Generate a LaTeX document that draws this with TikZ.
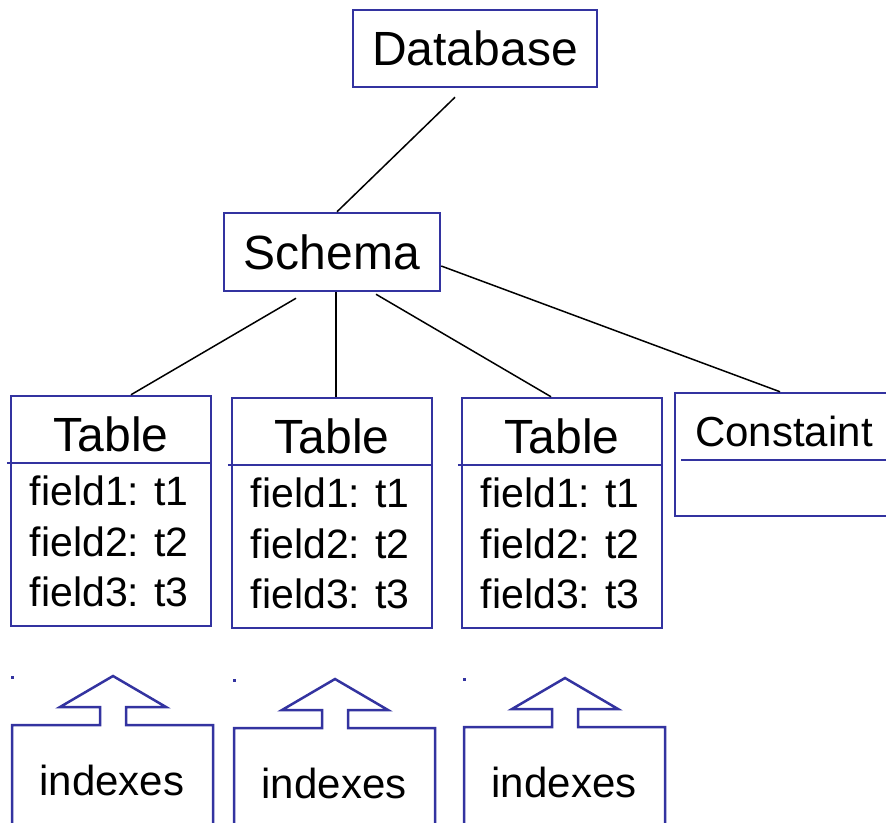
\documentclass[tikz,border=0pt]{standalone}
\usepackage{fontspec}
\setmainfont{Liberation Sans}
\usetikzlibrary{calc}
\definecolor{boxblue}{RGB}{51,51,160}
\tikzset{
	box/.style={draw=boxblue, line width=2.5pt, inner sep=0pt},
	boxline/.style={draw=boxblue, line width=2.5pt},
	link/.style={draw=black, line width=1.5pt},
	big/.style={font=\fontsize{48}{56}\selectfont},
	small/.style={font=\fontsize{42}{51}\selectfont, inner sep=0pt},
	fieldtext/.style={font=\fontsize{41}{50.5}\selectfont, inner sep=0pt},
}

\begin{document}
\begin{tikzpicture}[x=1pt, y=-1pt]
		\useasboundingbox (0,0) rectangle (886,822);
		\clip (0,0) rectangle (886,822);
		
		\node[box, big, minimum width=244pt, minimum height=77pt] (db) at (475,48.5) {Database};
		\node[box, big, minimum width=216pt, minimum height=78pt] (schema) at (332,252) {Schema};
		
		% tables
		\foreach \i/\x/\y in {1/111/511, 2/332/513, 3/562/513} {
			\node[box, minimum width=200pt, minimum height=230pt] (t\i) at (\x,\y) {};
			\draw[boxline] ($(t\i.north west)+(-3,68)$) -- ($(t\i.north east)+(0,68)$);
			\node[big, inner sep=0pt] (title\i) at ($(t\i.north)+(0,40)$) {Table};
			\node[fieldtext, anchor=west, align=left] (fields\i) at ($(t\i.north west)+(20,147)$)
				{field1: t1\\field2: t2\\field3: t3};
		}
		
		\node[box, minimum width=230pt, minimum height=123pt] (con) at (790,454.5) {};
		\node[small] (contitle) at (784,431) {Constaint};
		\draw[boxline] (681,460) -- (900,460);
		
		% connectors
		\draw[link] ([xshift=-20pt,yshift=-9pt]db.south) -- ([xshift=5pt]schema.north);
		\draw[link] ([xshift=-36pt,yshift=-6pt]schema.south) -- ([xshift=20pt]t1.north);
		\draw[link] ([xshift=4pt]schema.south) -- ([xshift=4pt]t2.north);
		\draw[link] ([xshift=44pt,yshift=-2pt]schema.south) -- ([xshift=-11pt]t3.north);
		\draw[link] ([yshift=-14pt]schema.east) -- ([xshift=-10pt]con.north);
		
		% indexes
		\foreach \i/\l/\t in {1/12/725, 2/234/728, 3/464/727} {
			\fill[boxblue] ({\l-1},{\t-49}) rectangle ({\l+2},{\t-46});
			\draw[boxline] (\l,830) -- (\l,\t) -- ({\l+88},\t) -- ({\l+88},{\t-18})
				-- ({\l+48},{\t-18}) -- ({\l+101},{\t-49}) -- ({\l+154},{\t-18})
				-- ({\l+114},{\t-18}) -- ({\l+114},\t) -- ({\l+201},\t) -- ({\l+201},830);
			\node[small] (idx\i) at ({\l+100},{\t+55}) {indexes};
		}
		
	\end{tikzpicture}
\end{document}
